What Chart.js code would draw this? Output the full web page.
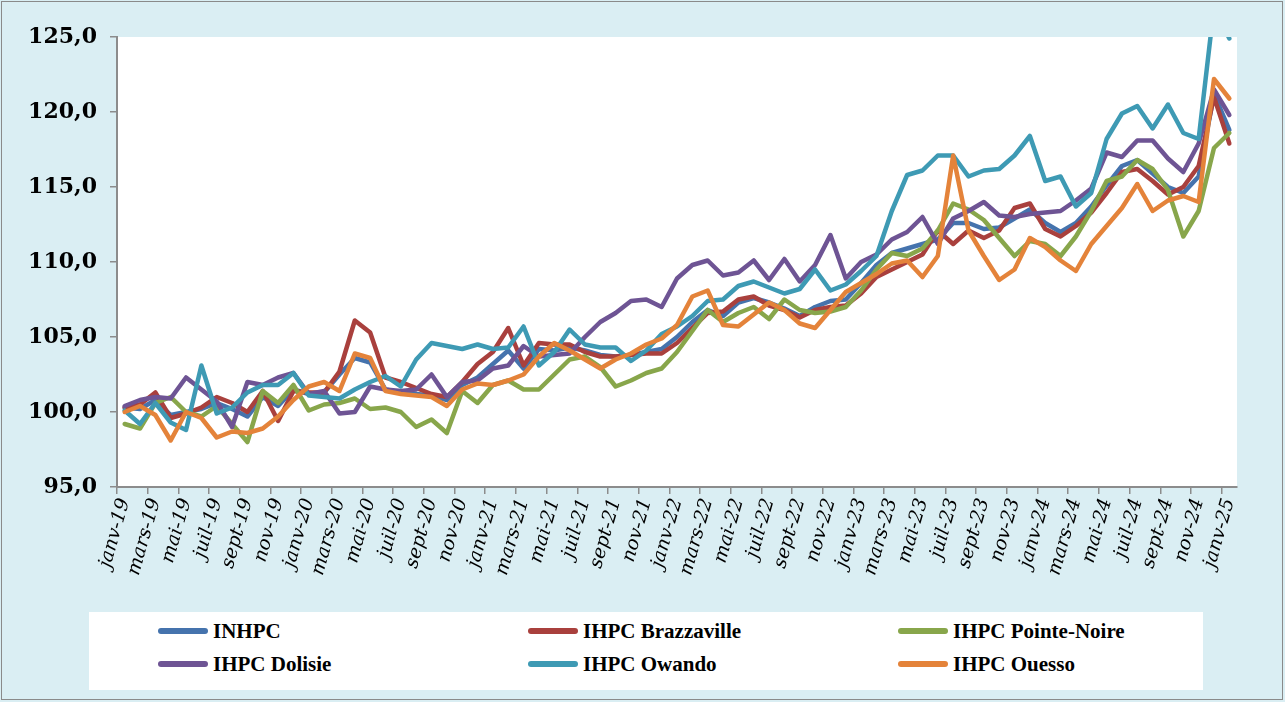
<!DOCTYPE html>
<html>
<head>
<meta charset="utf-8">
<script src="https://cdn.jsdelivr.net/npm/chart.js@4.4.1/dist/chart.umd.min.js"></script>
<style>
  html, body { margin: 0; padding: 0; background: #DAEEF3; }
  body { width: 1285px; height: 702px; position: relative; overflow: hidden; }
  #frame { position: absolute; left: 1px; top: 1px; width: 1280px; height: 697px; border: 1.5px solid #8a8a8a; }
  #wrap { position: absolute; left: 0; top: 0; width: 1285px; height: 702px; }
  #legend { position: absolute; left: 89px; top: 612px; width: 1114px; height: 78px; background: #fff; }
  .item { position: absolute; height: 22px; display: flex; align-items: center; }
  .sw { width: 50px; height: 6px; border-radius: 3px; margin-right: 5px; }
  .lt { font-family: "Liberation Serif", serif; font-weight: bold; font-size: 21px; color: #000; white-space: nowrap; }
</style>
</head>
<body>
<div id="frame"></div>
<div id="wrap"><canvas id="c" width="1285" height="702"></canvas></div>
<div id="legend"></div>
<script>
const months = ['janv','févr','mars','avr','mai','juin','juil','août','sept','oct','nov','déc'];
const categories = [];
for (let y = 19; y <= 25; y++) {
  for (let m = 0; m < 12; m++) {
    if (y === 25 && m > 0) break;
    categories.push(months[m] + '-' + y);
  }
}
const yTicks = [95, 100, 105, 110, 115, 120, 125];

const inhpc = [100.3,100.2,100.8,99.8,100.0,100.2,100.6,100.2,99.7,101.0,100.4,101.5,
  101.2,101.3,102.5,103.6,103.3,101.5,101.3,101.2,101.1,100.8,101.8,102.3,
  103.2,104.1,102.9,104.2,104.1,104.3,104.1,103.8,103.7,103.8,104.0,104.2,
  105.0,106.0,106.8,106.4,107.3,107.6,107.3,106.9,106.4,107.0,107.4,107.5,
  108.6,109.8,110.6,110.9,111.2,111.5,112.6,112.6,112.2,112.3,112.9,113.5,
  112.6,112.0,112.6,113.7,115.1,116.4,116.8,115.9,115.0,114.6,115.7,121.2,
  118.8];
const brazzaville = [100.3,100.5,101.3,99.6,99.9,100.3,101.0,100.6,100.0,101.4,99.4,101.4,
  101.3,101.3,102.7,106.1,105.3,102.3,102.0,101.6,101.2,101.0,102.0,103.2,
  104.0,105.6,103.1,104.6,104.5,104.5,104.0,103.7,103.7,103.8,103.9,103.9,
  104.6,105.6,106.6,106.7,107.5,107.7,107.1,106.8,106.3,106.8,107.0,107.1,
  107.9,109.0,109.5,110.0,110.5,112.1,111.2,112.1,111.6,112.1,113.6,113.9,
  112.2,111.7,112.4,113.3,114.6,116.0,116.2,115.4,114.5,115.0,116.4,121.0,
  117.9];
const pointeNoire = [99.2,98.9,100.6,101.0,100.0,99.7,100.4,99.2,98.0,101.4,100.6,101.8,
  100.1,100.5,100.6,100.9,100.2,100.3,100.0,99.0,99.5,98.6,101.4,100.6,
  101.8,102.1,101.5,101.5,102.5,103.5,103.7,103.0,101.7,102.1,102.6,102.9,
  104.0,105.4,106.8,106.0,106.6,107.0,106.2,107.5,106.8,106.6,106.7,107.0,
  108.1,109.5,110.6,110.4,110.9,112.1,113.9,113.5,112.8,111.6,110.4,111.4,
  111.2,110.4,111.7,113.4,115.4,115.7,116.8,116.2,114.8,111.7,113.4,117.6,
  118.6];
const dolisie = [100.4,100.8,101.0,100.9,102.3,101.5,100.7,99.0,102.0,101.8,102.3,102.6,
  101.2,101.4,99.9,100.0,101.7,101.5,101.4,101.5,102.5,101.0,102.0,102.1,
  102.9,103.1,104.4,103.7,103.8,103.9,105.0,106.0,106.6,107.4,107.5,107.0,
  108.9,109.8,110.1,109.1,109.3,110.1,108.8,110.2,108.7,109.8,111.8,108.9,
  110.0,110.5,111.5,112.0,113.0,111.2,112.9,113.4,114.0,113.1,113.0,113.2,
  113.3,113.4,114.1,114.9,117.3,117.0,118.1,118.1,116.9,116.0,117.9,121.5,
  119.8];
const owando = [100.1,99.2,100.6,99.3,98.8,103.1,99.9,100.3,101.3,101.8,101.8,102.6,
  101.1,101.0,100.9,101.5,102.0,102.4,101.7,103.5,104.6,104.4,104.2,104.5,
  104.2,104.3,105.7,103.1,104.0,105.5,104.5,104.3,104.3,103.4,104.1,105.2,
  105.7,106.4,107.4,107.5,108.4,108.7,108.3,107.9,108.2,109.5,108.1,108.5,
  109.4,110.4,113.4,115.8,116.1,117.1,117.1,115.7,116.1,116.2,117.1,118.4,
  115.4,115.7,113.7,114.6,118.2,119.9,120.4,118.9,120.5,118.6,118.2,127.0,
  124.9];
const ouesso = [100.0,100.4,99.8,98.1,100.0,99.6,98.3,98.7,98.6,98.9,99.7,100.8,
  101.7,102.0,101.4,103.9,103.6,101.4,101.2,101.1,101.0,100.4,101.5,101.9,
  101.8,102.1,102.5,103.7,104.6,104.1,103.5,102.9,103.5,103.9,104.5,104.9,
  105.8,107.7,108.1,105.8,105.7,106.5,107.3,106.8,105.9,105.6,106.8,108.0,
  108.6,109.2,109.9,110.1,109.0,110.4,117.1,112.1,110.4,108.8,109.5,111.6,
  111.0,110.1,109.4,111.2,112.4,113.6,115.2,113.4,114.1,114.4,114.0,122.2,
  120.9];

const seriesNames = ['INHPC','IHPC Brazzaville','IHPC Pointe-Noire','IHPC Dolisie','IHPC Owando','IHPC Ouesso'];
const seriesData = [inhpc, brazzaville, pointeNoire, dolisie, owando, ouesso];
const seriesColors = ['#4573AD','#A9403D','#88A64B','#6E5494','#3E9AB4','#E4833A'];

const datasets = seriesNames.map((n, i) => ({
  label: n,
  data: seriesData[i],
  borderColor: seriesColors[i],
  backgroundColor: seriesColors[i],
  borderWidth: 4.5,
  pointRadius: 0,
  pointHoverRadius: 0,
  tension: 0,
  fill: false,
  clip: 0,
  borderJoinStyle: 'round',
  borderCapStyle: 'round',
  order: seriesNames.length - i
}));

const whiteArea = {
  id: 'whiteArea',
  beforeDraw(chart) {
    const a = chart.chartArea, ctx = chart.ctx;
    ctx.save();
    ctx.fillStyle = '#ffffff';
    ctx.fillRect(a.left, a.top, a.right - a.left, a.bottom - a.top);
    ctx.restore();
  }
};

new Chart(document.getElementById('c'), {
  type: 'line',
  data: { labels: categories, datasets },
  plugins: [whiteArea],
  options: {
    responsive: false,
    animation: false,
    layout: { padding: { left: 0, top: 37, right: 48, bottom: 0 } },
    plugins: { legend: { display: false }, tooltip: { enabled: false } },
    scales: {
      x: {
        type: 'category',
        offset: true,
        afterFit(s) { s.height = 215; },
        border: { display: true, color: '#8c8c8c', width: 2 },
        grid: {
          offset: true,
          drawOnChartArea: false,
          drawTicks: true,
          tickLength: 7,
          lineWidth: 1.5,
          color: (ctx) => (ctx.index % 2 === 0 ? '#8c8c8c' : 'rgba(0,0,0,0)')
        },
        ticks: {
          autoSkip: false,
          minRotation: 74,
          maxRotation: 74,
          padding: 2,
          color: '#000',
          font: { family: 'DejaVu Serif', style: 'italic', size: 19 },
          callback: (v, i) => (i % 2 === 0 ? categories[i] : '')
        }
      },
      y: {
        min: yTicks[0],
        max: yTicks[yTicks.length - 1],
        afterFit(s) { s.width = 117; },
        afterBuildTicks(s) { s.ticks = yTicks.map(v => ({ value: v })); },
        border: { display: true, color: '#8c8c8c', width: 2 },
        grid: { drawOnChartArea: false, drawTicks: true, tickLength: 7, color: '#8c8c8c', lineWidth: 1.5 },
        ticks: {
          padding: 13,
          color: '#000',
          font: { family: 'DejaVu Serif', weight: 'bold', size: 22 },
          callback: (v) => v.toFixed(1).replace('.', ',')
        }
      }
    }
  }
});

// legend (3 columns x 2 rows) built from the series
const leg = document.getElementById('legend');
seriesNames.forEach((n, i) => {
  const col = i % 3, row = Math.floor(i / 3);
  const it = document.createElement('div');
  it.className = 'item';
  it.style.left = (158 - 89 + col * 370) + 'px';
  it.style.top = (631 - 612 - 11 + row * 33) + 'px';
  const sw = document.createElement('div');
  sw.className = 'sw';
  sw.style.background = seriesColors[i];
  const t = document.createElement('span');
  t.className = 'lt';
  t.textContent = n;
  it.appendChild(sw); it.appendChild(t);
  leg.appendChild(it);
});
</script>
</body>
</html>
